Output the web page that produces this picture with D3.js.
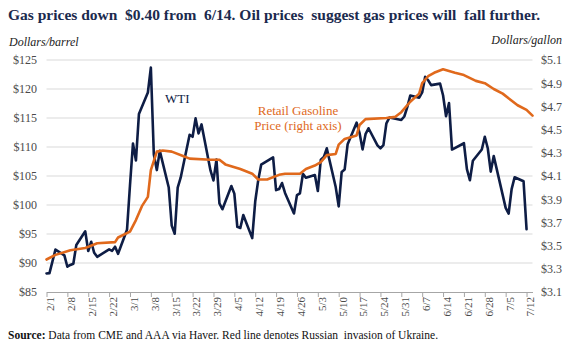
<!DOCTYPE html>
<html>
<head>
<meta charset="utf-8">
<script src="https://cdn.jsdelivr.net/npm/d3@7"></script>
<style>
  html, body { margin: 0; padding: 0; background: #ffffff; }
  svg { display: block; }
  svg text { font-family: "Liberation Serif", "Times New Roman", serif !important; }
</style>
</head>
<body>
<svg id="chart" width="573" height="346"></svg>
<script>
// WTI crude, dollars per barrel (trading days, 2022)
const wtiDates = ["2/1","2/2","2/3","2/4","2/7","2/8","2/9","2/10","2/11","2/14","2/15","2/16","2/17","2/18","2/22","2/23","2/24","2/25","2/28",
  "3/1","3/2","3/3","3/4","3/7","3/8","3/9","3/10","3/11","3/14","3/15","3/16","3/17","3/18","3/21","3/22","3/23","3/24","3/25","3/28","3/29","3/30","3/31",
  "4/1","4/4","4/5","4/6","4/7","4/8","4/11","4/12","4/13","4/14","4/18","4/19","4/20","4/21","4/22","4/25","4/26","4/27","4/28","4/29",
  "5/2","5/3","5/4","5/5","5/6","5/9","5/10","5/11","5/12","5/13","5/16","5/17","5/18","5/19","5/20","5/23","5/24","5/25","5/26","5/27","5/31",
  "6/1","6/2","6/3","6/6","6/7","6/8","6/9","6/10","6/13","6/14","6/15","6/16","6/17","6/21","6/22","6/23","6/24","6/27","6/28","6/29","6/30",
  "7/1","7/5","7/6","7/7","7/8","7/11","7/12"];
const wtiValues = [88.20,88.26,90.27,92.31,91.32,89.36,89.66,89.88,93.10,95.46,92.07,93.66,91.76,91.07,92.35,92.10,92.81,91.59,95.72,
  103.41,110.60,107.67,115.68,119.40,123.70,108.70,106.02,109.33,103.01,96.44,95.04,102.98,104.70,112.12,111.76,114.93,112.34,113.90,105.96,104.24,107.82,100.28,
  99.27,103.28,101.96,96.23,96.03,98.26,94.29,100.60,104.25,106.95,108.21,102.56,102.75,103.79,102.07,98.54,101.70,102.02,105.36,104.69,
  105.17,102.41,107.81,108.26,109.77,103.09,99.76,105.71,106.13,110.49,114.20,112.40,109.59,112.21,113.23,110.29,109.77,110.33,114.09,115.07,114.67,
  115.26,116.87,118.87,118.50,119.41,122.11,121.51,120.67,120.93,118.93,115.31,117.59,109.56,110.65,106.19,104.27,107.62,109.57,111.76,109.78,105.76,
  108.43,99.50,98.53,102.73,104.79,104.09,95.84];

// Retail gasoline, dollars per gallon (right axis)
const gasDates = ["2/1","2/4","2/9","2/14","2/18","2/24","2/25","3/1","3/3","3/5","3/7","3/8","3/10","3/12","3/15","3/19","3/21","3/28","3/31",
  "4/2","4/7","4/11","4/13","4/16","4/20","4/22","4/27","4/29","5/2","5/4","5/6","5/9","5/10","5/12","5/16","5/17","5/19","5/26","5/29","5/31",
  "6/3","6/6","6/7","6/9","6/11","6/14","6/18","6/21","6/25","6/28","7/1","7/4","7/9","7/12","7/14"];
const gasValues = [3.38,3.42,3.46,3.48,3.52,3.53,3.57,3.62,3.72,3.84,3.92,4.15,4.31,4.32,4.31,4.27,4.25,4.24,4.24,
  4.20,4.16,4.12,4.07,4.07,4.11,4.12,4.12,4.16,4.19,4.22,4.28,4.29,4.37,4.42,4.45,4.54,4.59,4.60,4.61,4.65,
  4.74,4.81,4.90,4.96,4.99,5.02,4.99,4.97,4.92,4.90,4.85,4.81,4.71,4.67,4.62];

// Axis ticks
const xTickLabels = ["2/1","2/8","2/15","2/22","3/1","3/8","3/15","3/22","3/29","4/5","4/12","4/19","4/26","5/3","5/10","5/17","5/24","5/31","6/7","6/14","6/21","6/28","7/5","7/12"];
const leftTicks = [85,90,95,100,105,110,115,120,125];
const rightTicks = [3.1,3.3,3.5,3.7,3.9,4.1,4.3,4.5,4.7,4.9,5.1];

const YEAR = 2022;
const parseMD = s => { const [m, d] = s.split("/").map(Number); return new Date(Date.UTC(YEAR, m - 1, d)); };

const svg = d3.select("#chart");
const plot = { left: 46.5, right: 532.5, top: 60, bottom: 292 };

const x = d3.scaleUtc()
  .domain([parseMD("2/1"), parseMD("7/14")])
  .range([plot.left, plot.right]);
const yL = d3.scaleLinear().domain([85, 125]).range([plot.bottom, plot.top]);
const yR = d3.scaleLinear().domain([3.1, 5.1]).range([plot.bottom, plot.top]);

const navy = "#0e1d45";
const orange = "#e0691c";
const labelGray = "#4a4a4a";

// Title
svg.append("text")
  .attr("x", 8).attr("y", 20)
  .attr("font-size", 15.5).attr("font-weight", "bold")
  .attr("fill", "#1b2a4e")
  .style("white-space", "pre")
  .text("Gas prices down  $0.40 from  6/14. Oil prices  suggest gas prices will  fall further.");

// Axis unit captions
svg.append("text").attr("x", 9).attr("y", 46)
  .attr("font-size", 12).attr("font-style", "italic").attr("fill", "#222")
  .text("Dollars/barrel");
svg.append("text").attr("x", 562).attr("y", 44).attr("text-anchor", "end")
  .attr("font-size", 12).attr("font-style", "italic").attr("fill", "#222")
  .text("Dollars/gallon");

// Horizontal gridlines from the left axis
svg.append("g").selectAll("line")
  .data(leftTicks.filter(v => v > 85))
  .join("line")
  .attr("x1", plot.left).attr("x2", plot.right)
  .attr("y1", d => yL(d)).attr("y2", d => yL(d))
  .attr("stroke", "#d9d9d9").attr("stroke-width", 1);

// Left axis labels
const leftAxis = d3.axisLeft(yL).tickValues(leftTicks).tickSize(0).tickPadding(0)
  .tickFormat(d => "$" + d);
const gL = svg.append("g").attr("transform", "translate(37,0)").call(leftAxis);
gL.select(".domain").remove();
gL.selectAll("text").attr("font-size", 12).attr("fill", labelGray);

// Right axis labels
const rightAxis = d3.axisRight(yR).tickValues(rightTicks).tickSize(0).tickPadding(0)
  .tickFormat(d => "$" + d.toFixed(1));
const gR = svg.append("g").attr("transform", "translate(541,0)").call(rightAxis);
gR.select(".domain").remove();
gR.selectAll("text").attr("font-size", 12).attr("fill", labelGray);

// Bottom date axis
const bottomAxis = d3.axisBottom(x)
  .tickValues(xTickLabels.map(parseMD))
  .tickSize(5).tickSizeOuter(0)
  .tickFormat(d => (d.getUTCMonth() + 1) + "/" + d.getUTCDate());
const gX = svg.append("g").attr("transform", `translate(0,${plot.bottom})`).call(bottomAxis);
gX.select(".domain").attr("stroke", "#a6a6a6");
gX.selectAll(".tick line").attr("stroke", "#a6a6a6");
gX.selectAll("text")
  .attr("font-size", 11).attr("fill", labelGray)
  .attr("text-anchor", "end")
  .attr("transform", "translate(3.5,5) rotate(-90)")
  .attr("x", 0).attr("y", 0).attr("dy", "0.35em");

// Lines
const wti = wtiDates.map((d, i) => ({ date: parseMD(d), value: wtiValues[i] }));
const gas = gasDates.map((d, i) => ({ date: parseMD(d), value: gasValues[i] }));

svg.append("path")
  .datum(wti)
  .attr("fill", "none").attr("stroke", navy).attr("stroke-width", 2.6)
  .attr("stroke-linejoin", "round").attr("stroke-linecap", "round")
  .attr("d", d3.line().x(d => x(d.date)).y(d => yL(d.value)));

svg.append("path")
  .datum(gas)
  .attr("fill", "none").attr("stroke", orange).attr("stroke-width", 2.6)
  .attr("stroke-linejoin", "round").attr("stroke-linecap", "round")
  .attr("d", d3.line().x(d => x(d.date)).y(d => yR(d.value)));

// Series labels
svg.append("text").attr("x", 165).attr("y", 103)
  .attr("font-size", 13).attr("fill", navy).text("WTI");
const gasLabel = svg.append("text").attr("x", 298).attr("y", 115)
  .attr("font-size", 13).attr("fill", orange).attr("text-anchor", "middle");
gasLabel.append("tspan").attr("x", 298).text("Retail Gasoline");
gasLabel.append("tspan").attr("x", 298).attr("dy", 15).text("Price (right axis)");

// Source note
const src = svg.append("text").attr("x", 8).attr("y", 339)
  .attr("font-size", 11.5).attr("fill", "#111");
src.append("tspan").attr("font-weight", "bold").text("Source:");
src.append("tspan").style("white-space", "pre")
  .text(" Data from CME and AAA via Haver. Red line denotes Russian  invasion of Ukraine.");
</script>
</body>
</html>
